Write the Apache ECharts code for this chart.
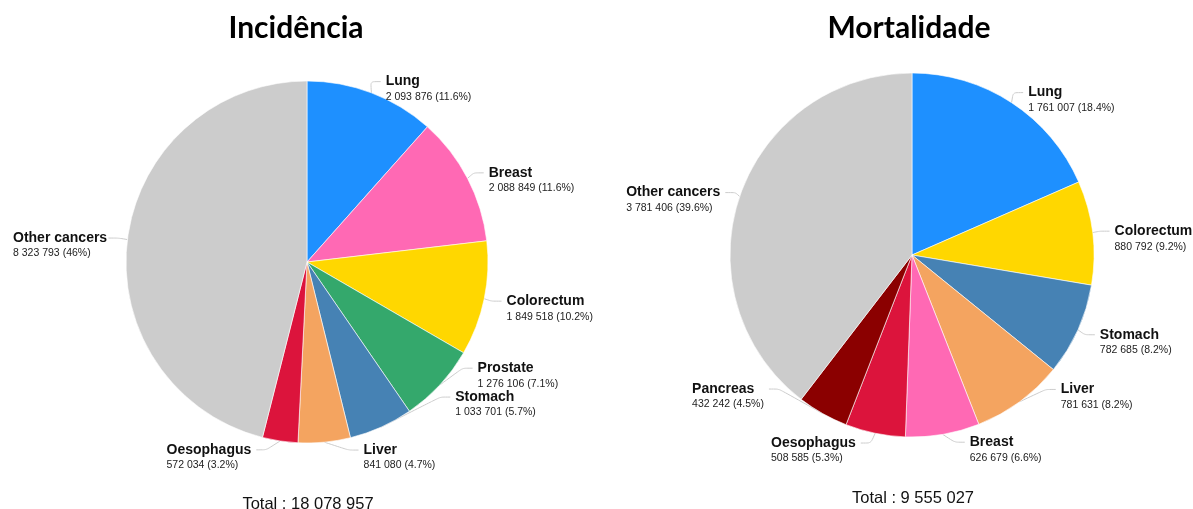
<!DOCTYPE html>
<html>
<head>
<meta charset="utf-8">
<script src="https://cdn.jsdelivr.net/npm/echarts@6/dist/echarts.min.js"></script>
<style>
  html, body { margin: 0; padding: 0; background: #fff; }
  #main { width: 1193px; height: 509px; }
</style>
</head>
<body>
<div id="main"></div>
<script>
// incidence
var incNames = ['Lung', 'Breast', 'Colorectum', 'Prostate', 'Stomach', 'Liver', 'Oesophagus', 'Other cancers'];
var incValues = [2093876, 2088849, 1849518, 1276106, 1033701, 841080, 572034, 8323793];
var incPct = ['11.6%', '11.6%', '10.2%', '7.1%', '5.7%', '4.7%', '3.2%', '46%'];
var incColors = ['#1e90ff', '#ff69b4', '#ffd700', '#34a86c', '#4682b4', '#f4a460', '#dc143c', '#cccccc'];
var incTotal = 18078957;

// mortality
var morNames = ['Lung', 'Colorectum', 'Stomach', 'Liver', 'Breast', 'Oesophagus', 'Pancreas', 'Other cancers'];
var morValues = [1761007, 880792, 782685, 781631, 626679, 508585, 432242, 3781406];
var morPct = ['18.4%', '9.2%', '8.2%', '8.2%', '6.6%', '5.3%', '4.5%', '39.6%'];
var morColors = ['#1e90ff', '#ffd700', '#4682b4', '#f4a460', '#ff69b4', '#dc143c', '#8b0000', '#cccccc'];
var morTotal = 9555027;

// small label nudges (pixels) on top of the default pie label layout
var nudge = [
  { 'Lung': [-5, 0], 'Prostate': [11, -25], 'Stomach': [36, -41], 'Liver': [23, -18], 'Oesophagus': [-12, -3], 'Other cancers': [3, 0] },
  { 'Lung': [-5, 0], 'Colorectum': [-5, 0], 'Stomach': [-4, 0], 'Liver': [19, -22], 'Breast': [10, -4],
    'Oesophagus': [-2, -11], 'Pancreas': [-29, -35], 'Other cancers': [7, 0] }
];

function fmt(n) {
  return String(n).replace(/\B(?=(\d{3})+(?!\d))/g, ' ');
}

function makeData(names, values, pct, colors) {
  var out = [];
  for (var i = 0; i < names.length; i++) {
    out.push({ name: names[i], value: values[i], pct: pct[i], itemStyle: { color: colors[i] } });
  }
  return out;
}

function layoutFor(k) {
  var names = k === 0 ? incNames : morNames;
  return function (p) {
    var nm = names[p.dataIndex];
    var d = nudge[k][nm];
    if (!d || !p.labelLinePoints) return {};
    var pts = p.labelLinePoints;
    var p2 = [pts[2][0] + d[0], pts[2][1] + d[1]];
    var p1 = [p2[0] - (pts[2][0] - pts[1][0]), p2[1]];
    return {
      dx: d[0],
      dy: d[1],
      labelLinePoints: [pts[0], p1, p2]
    };
  };
}

var labelCfg = {
  formatter: function (p) {
    return '{n|' + p.name + '}\n{v|' + fmt(p.value) + ' (' + p.data.pct + ')}';
  },
  overflow: 'none',
  padding: [14, 0, 0, 0],
  rich: {
    n: { fontFamily: 'Liberation Sans', fontWeight: 'bold', fontSize: 14, color: '#111', lineHeight: 17, align: 'left' },
    v: { fontFamily: 'Liberation Sans', fontSize: 10.5, color: '#222', lineHeight: 14, align: 'left' }
  }
};

var lineCfg = { length: 12, length2: 10, smooth: 0.2, lineStyle: { color: '#ccc', width: 1 } };

var myChart = echarts.init(document.getElementById('main'));
myChart.setOption({
  animation: false,
  title: [
    { text: 'Incidência', left: 291, top: 8, textAlign: 'center',
      textStyle: { fontFamily: 'Lato', fontWeight: 'bold', fontSize: 30, color: '#000' } },
    { text: 'Mortalidade', left: 904, top: 8, textAlign: 'center',
      textStyle: { fontFamily: 'Lato', fontWeight: 'bold', fontSize: 30, color: '#000' } },
    { text: 'Total : ' + fmt(incTotal), left: 303, top: 491, textAlign: 'center',
      textStyle: { fontFamily: 'Liberation Sans', fontWeight: 'normal', fontSize: 16.5, color: '#111' } },
    { text: 'Total : ' + fmt(morTotal), left: 908, top: 485, textAlign: 'center',
      textStyle: { fontFamily: 'Liberation Sans', fontWeight: 'normal', fontSize: 16.5, color: '#111' } }
  ],
  series: [
    {
      type: 'pie',
      center: [307, 262],
      radius: 181,
      startAngle: 90,
      data: makeData(incNames, incValues, incPct, incColors),
      itemStyle: { borderColor: '#fff', borderWidth: 0.6 },
      label: labelCfg,
      labelLine: lineCfg,
      labelLayout: layoutFor(0),
      emphasis: { disabled: true }
    },
    {
      type: 'pie',
      center: [912, 255],
      radius: 182,
      startAngle: 90,
      data: makeData(morNames, morValues, morPct, morColors),
      itemStyle: { borderColor: '#fff', borderWidth: 0.6 },
      label: labelCfg,
      labelLine: lineCfg,
      labelLayout: layoutFor(1),
      emphasis: { disabled: true }
    }
  ]
});
</script>
</body>
</html>
